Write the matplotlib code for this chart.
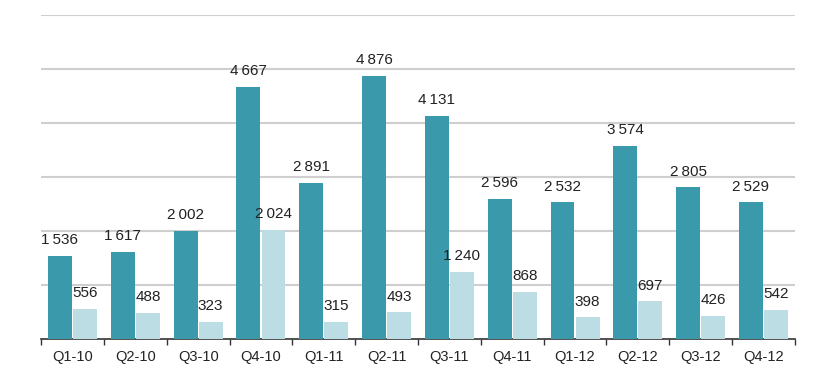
import matplotlib.pyplot as plt
import numpy as np

quarters = ['Q1-10', 'Q2-10', 'Q3-10', 'Q4-10', 'Q1-11', 'Q2-11',
            'Q3-11', 'Q4-11', 'Q1-12', 'Q2-12', 'Q3-12', 'Q4-12']
series_a = [1536, 1617, 2002, 4667, 2891, 4876, 4131, 2596, 2532, 3574, 2805, 2529]
series_b = [556, 488, 323, 2024, 315, 493, 1240, 868, 398, 697, 426, 542]

dark = '#3a99ab'
light = '#bcdde4'

plt.rcParams['font.family'] = ['Liberation Sans', 'DejaVu Sans']

fig = plt.figure(figsize=(8.22, 3.83), dpi=100)
ax = fig.add_axes([0.05, 0.115, 0.917, 0.846])

x = np.arange(len(quarters))
w = 0.38
ax.bar(x - 0.2, series_a, w, color=dark, zorder=3)
ax.bar(x + 0.2, series_b, w, color=light, zorder=3)


def fmt(v):
    return f'{v:,}'.replace(',', '\u2009')


for i in range(len(quarters)):
    ax.text(x[i] - 0.2, series_a[i] + 160, fmt(series_a[i]), ha='center', va='bottom',
            fontsize=11, color='#222222')
    ax.text(x[i] + 0.2, series_b[i] + 160, fmt(series_b[i]), ha='center', va='bottom',
            fontsize=11, color='#222222')

ax.set_xlim(-0.5, len(quarters) - 0.5)
ax.set_ylim(0, 6000)
ax.set_yticks(np.arange(1000, 6001, 1000))
ax.yaxis.grid(True, color='#cfcfcf', linewidth=1.5, zorder=0)
ax.tick_params(axis='y', left=False, labelleft=False)

ax.set_xticks(x)
ax.set_xticklabels(quarters, fontsize=10.5, color='#222222')
ax.tick_params(axis='x', which='major', length=0, pad=8)
ax.set_xticks(np.arange(-0.5, len(quarters)), minor=True)
ax.tick_params(axis='x', which='minor', length=4, width=1, color='#333333', direction='out')

for s in ['top', 'right', 'left']:
    ax.spines[s].set_visible(False)
ax.spines['bottom'].set_color('#333333')
ax.spines['bottom'].set_linewidth(1.2)

fig.savefig('out.png', dpi=100)
